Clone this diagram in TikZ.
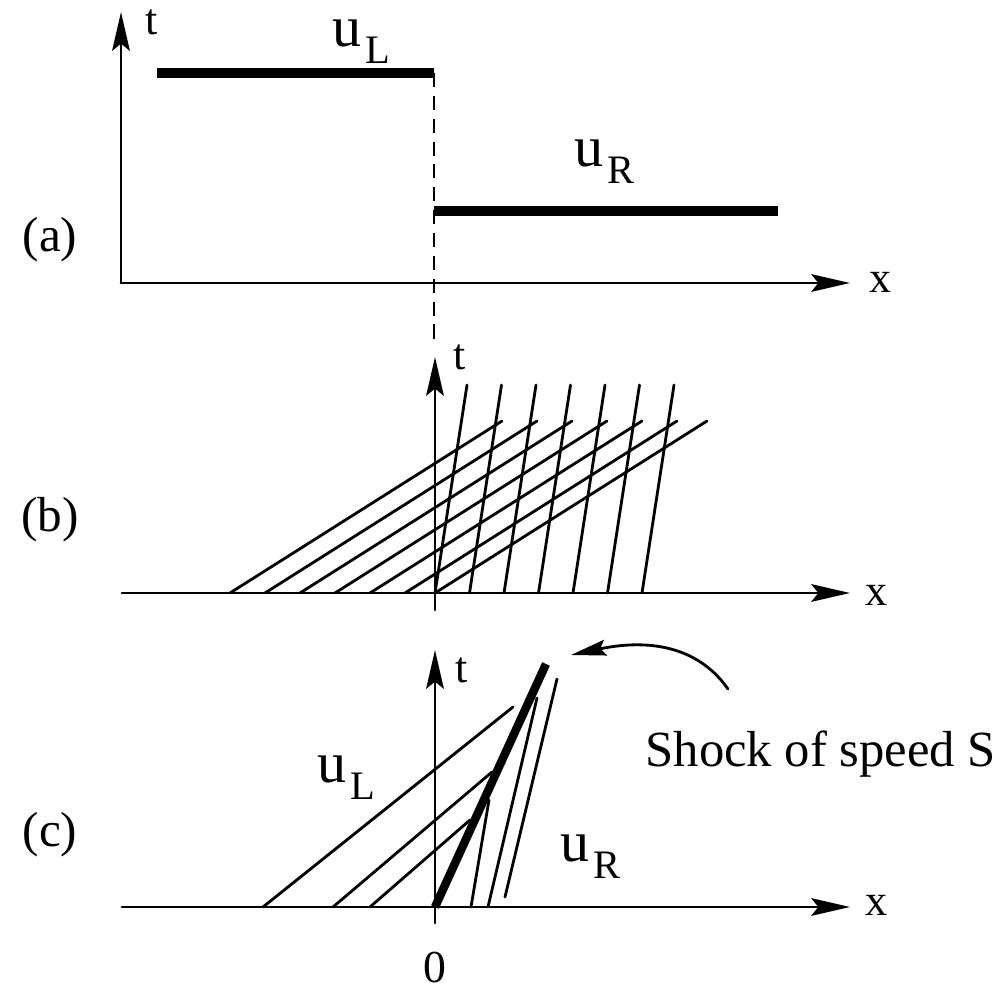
\documentclass[tikz,border=0pt]{standalone}
\usepackage{fontspec}
\setmainfont{Liberation Serif}
\usetikzlibrary{arrows.meta}
\newcommand{\usub}[1]{u\kern1pt\raisebox{-4.6pt}{\fontsize{11.5}{12}\selectfont #1}}
\begin{document}
\begin{tikzpicture}[x=0.01cm,y=0.01cm,line join=round,line cap=round,
    axis/.style={line width=0.85pt,-{Stealth[length=11pt,width=5pt,inset=2pt]}},
    charline/.style={line width=0.8pt},
    state/.style={line width=2.7pt,line cap=butt},
    panel/.style={font=\fontsize{14}{16}\selectfont},
    axlab/.style={font=\fontsize{12.5}{14}\selectfont},
    ulab/.style={font=\fontsize{16.5}{18}\selectfont,anchor=base west,inner sep=0pt}]
  \useasboundingbox (0,0) rectangle (1005,990);
  % (a) initial data
  \draw[axis] (121,707) -- (850,707);
  \draw[axis] (121,707) -- (121,978);
  \draw[state] (157,917) -- (434,917);
  \draw[state] (434,779) -- (778,779);
  \draw[line width=0.7pt,dash pattern=on 4pt off 2.5pt,line cap=butt] (434,917) -- (434,648);
  \node[panel] (labA) at (50,750) {(a)};
  \node[axlab] (tA) at (152,968) {t};
  \node[axlab] (xA) at (880,708) {x};
  \node[ulab] (uLa) at (332,943) {\usub{L}};
  \node[ulab] (uRa) at (574,823) {\usub{R}};
  % (b) characteristics cross
  \foreach \s in {230,265,300,335,370,405,435}
    \draw[charline] (\s,397) -- ++(272,172);
  \foreach \k in {0,...,6}
    \draw[charline] ({435+34.5*\k},397) -- ++(32,208);
  \draw[axis] (122,397) -- (850,397);
  \draw[axis] (435,380) -- (435,633);
  \node[panel] (labB) at (50,470) {(b)};
  \node[axlab] (tB) at (460,633) {t};
  \node[axlab] (xB) at (876,395) {x};
  % (c) shock
  \draw[charline] (263,83) -- (513,283);
  \draw[charline] (333,83) -- (492,218);
  \draw[charline] (370,83) -- (470,170);
  \draw[charline] (471,83) -- (489,190);
  \draw[charline] (488,83) -- (537,292);
  \draw[charline] (505,93) -- (557,311);
  \draw[axis] (122,83) -- (850,83);
  \draw[axis] (435,67) -- (435,340);
  \draw[state,line width=2.4pt] (435,83) -- (546,326);
  \node[panel] (labC) at (50,155) {(c)};
  \node[axlab] (tC) at (462,320) {t};
  \node[axlab] (xC) at (876,85) {x};
  \node[axlab,font=\fontsize{13}{15}\selectfont] (zero) at (435,22) {0};
  \node[ulab] (uLc) at (317,207) {\usub{L}};
  \node[ulab] (uRc) at (560,128) {\usub{R}};
  \node[font=\fontsize{14.4}{17}\selectfont,anchor=base west,inner sep=0pt] (shock) at (645,223) {Shock of speed S};
  \coordinate (arrowStart) at (728,301);
  \coordinate (arrowEnd) at (571,335);
  \draw[line width=0.8pt,-{Stealth[length=10pt,width=4.5pt,inset=1.5pt]}] (arrowStart) to[out=125,in=12] (arrowEnd);
\end{tikzpicture}
\end{document}
